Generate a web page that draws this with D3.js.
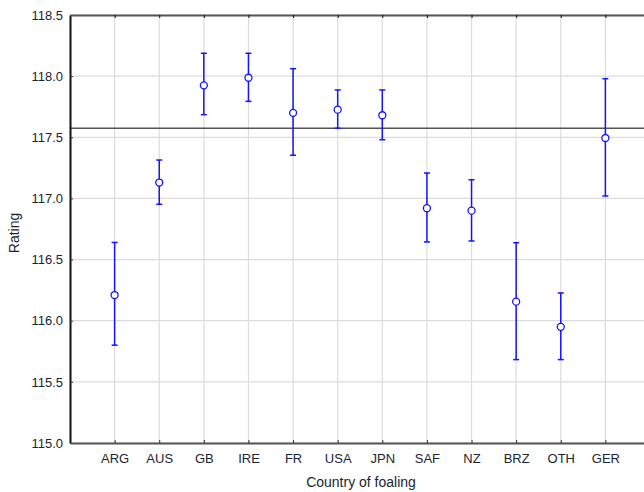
<!DOCTYPE html>
<html><head><meta charset="utf-8">
<script src="https://cdn.jsdelivr.net/npm/d3@7"></script>
<style>body{margin:0;background:#fff}svg{display:block;font-family:"Liberation Sans",Arial,sans-serif}</style>
</head><body>
<svg id="c" width="644" height="492"></svg>
<script>
const categories = ["ARG","AUS","GB","IRE","FR","USA","JPN","SAF","NZ","BRZ","OTH","GER"];
const means = [116.21,117.13,117.925,117.987,117.70,117.726,117.68,116.92,116.90,116.156,115.95,117.494];
const upper = [116.64,117.314,118.187,118.187,118.061,117.887,117.887,117.208,117.153,116.638,116.227,117.979];
const lower = [115.80,116.952,117.685,117.794,117.353,117.574,117.48,116.644,116.652,115.682,115.682,117.02];
const yTicks = [115.0,115.5,116.0,116.5,117.0,117.5,118.0,118.5];
const refValue = 117.574;

const svg = d3.select("#c");
const L = 70, T = 15, B = 443, R = 650;
const x = d3.scaleLinear().domain([0, categories.length + 1]).range([L, R]);
const y = d3.scaleLinear().domain([115, 118.5]).range([B, T]);
const txt = "#1a2530";

// grid
svg.append("g").selectAll("line").data(yTicks).join("line")
  .attr("x1", L).attr("x2", R).attr("y1", d => y(d)).attr("y2", d => y(d))
  .attr("stroke", "#dcdcdc").attr("stroke-width", 1.2);
svg.append("g").selectAll("line").data(categories).join("line")
  .attr("x1", (d,i) => x(i+1)).attr("x2", (d,i) => x(i+1)).attr("y1", T).attr("y2", B)
  .attr("stroke", "#dcdcdc").attr("stroke-width", 1.2);

// reference line
svg.append("line").attr("x1", L).attr("x2", R).attr("y1", y(refValue)).attr("y2", y(refValue))
  .attr("stroke", "#555").attr("stroke-width", 1.5);

// axes
const yAxis = d3.axisLeft(y).tickValues(yTicks).tickFormat(d3.format(".1f")).tickSizeInner(-3).tickSizeOuter(0).tickPadding(7);
const gy = svg.append("g").attr("transform", `translate(${L},0)`).call(yAxis);
gy.select(".domain").attr("stroke", "#111").attr("stroke-width", 2);
gy.selectAll(".tick line").attr("stroke", "#333");
gy.selectAll("text").attr("font-size", 13).attr("fill", txt).attr("font-family", "Liberation Sans, Arial, sans-serif");

const xAxis = d3.axisBottom(x).tickValues(d3.range(1, categories.length + 1))
  .tickFormat(d => categories[d-1]).tickSizeInner(-3).tickSizeOuter(0).tickPadding(11);
const gx = svg.append("g").attr("transform", `translate(0,${B})`).call(xAxis);
gx.select(".domain").attr("stroke", "#555").attr("stroke-width", 2);
gx.selectAll(".tick line").attr("stroke", "#333");
gx.selectAll("text").attr("font-size", 13).attr("fill", txt).attr("font-family", "Liberation Sans, Arial, sans-serif");

const xTop = d3.axisTop(x).tickValues(d3.range(1, categories.length + 1)).tickSizeInner(-3).tickSizeOuter(0).tickFormat("");
const gt = svg.append("g").attr("transform", `translate(0,${T})`).call(xTop);
gt.select(".domain").attr("stroke", "#555").attr("stroke-width", 2);
gt.selectAll(".tick line").attr("stroke", "#111");

// error bars
const blue = "#1414ff";
const g = svg.append("g");
categories.forEach((c, i) => {
  const cx = x(i+1);
  g.append("line").attr("x1", cx).attr("x2", cx).attr("y1", y(upper[i])).attr("y2", y(lower[i]))
    .attr("stroke", blue).attr("stroke-width", 1.5);
  [upper[i], lower[i]].forEach(v => g.append("line").attr("x1", cx-3).attr("x2", cx+3)
    .attr("y1", y(v)).attr("y2", y(v)).attr("stroke", blue).attr("stroke-width", 1.5));
  g.append("circle").attr("cx", cx).attr("cy", y(means[i])).attr("r", 3.5)
    .attr("fill", "#fff").attr("stroke", blue).attr("stroke-width", 1.3);
});

// titles
svg.append("text").attr("x", 361).attr("y", 487).attr("text-anchor", "middle")
  .attr("font-size", 14).attr("fill", txt).text("Country of foaling");
svg.append("text").attr("transform", "translate(19,233) rotate(-90)").attr("text-anchor", "middle")
  .attr("font-size", 14).attr("fill", txt).text("Rating");
</script>
</body></html>
